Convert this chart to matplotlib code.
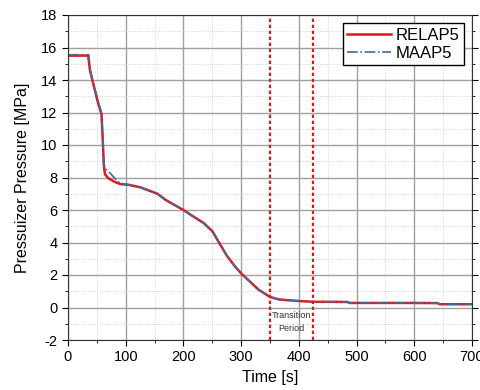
import matplotlib
matplotlib.use('Agg')
from matplotlib import pyplot as plt
from matplotlib.ticker import MultipleLocator

plt.rcParams['font.family'] = ['Liberation Sans', 'DejaVu Sans']
plt.rcParams['axes.unicode_minus'] = False

# RELAP5 pressure history
relap_t = [0, 35, 38, 45, 52, 58, 60, 62, 64, 70, 80, 90, 105, 125, 140, 155, 170,
           185, 200, 215, 235, 250, 260, 275, 290, 300, 315, 330, 350, 365, 380,
           400, 425, 450, 484, 488, 550, 600, 640, 644, 700]
relap_p = [15.5, 15.5, 14.6, 13.6, 12.6, 11.9, 10.5, 8.8, 8.2, 7.95, 7.75, 7.6, 7.55,
           7.4, 7.2, 7.0, 6.6, 6.3, 6.0, 5.65, 5.2, 4.7, 4.1, 3.2, 2.5, 2.1, 1.6,
           1.1, 0.65, 0.5, 0.45, 0.4, 0.35, 0.35, 0.34, 0.28, 0.28, 0.28, 0.27, 0.2, 0.2]

# MAAP5 pressure history
maap_t = [0, 36, 39, 45, 52, 58, 60, 62, 66, 72, 80, 90, 105, 125, 140, 155, 170,
          185, 200, 215, 235, 250, 260, 275, 290, 300, 315, 330, 350, 365, 380,
          400, 425, 450, 484, 488, 550, 600, 640, 644, 700]
maap_p = [15.55, 15.55, 14.5, 13.6, 12.7, 12.0, 10.6, 8.8, 8.5, 8.3, 8.0, 7.65, 7.55,
          7.4, 7.2, 7.0, 6.6, 6.3, 6.0, 5.65, 5.2, 4.7, 4.1, 3.2, 2.5, 2.1, 1.6,
          1.1, 0.65, 0.5, 0.45, 0.4, 0.35, 0.35, 0.34, 0.28, 0.28, 0.28, 0.27, 0.2, 0.2]

transition = [350, 425]

fig = plt.figure(figsize=(4.81, 3.90), dpi=100)
ax = fig.add_axes([68 / 481, 50 / 390, 404 / 481, 325 / 390])

ax.plot(relap_t, relap_p, color='#e8141c', linewidth=1.8, label='RELAP5')
ax.plot(maap_t, maap_p, color='#3e6d9c', linewidth=1.2, linestyle='-.', label='MAAP5')

for t in transition:
    ax.axvline(t, color='#e8141c', linestyle=(0, (1.5, 1.2)), linewidth=1.6)
ax.text(387, -0.9, 'Transition\nPeriod', fontsize=6.5, ha='center', va='center',
        color='#333333', linespacing=1.6)

ax.set_xlim(0, 700)
ax.set_ylim(-2, 18)
ax.xaxis.set_major_locator(MultipleLocator(100))
ax.xaxis.set_minor_locator(MultipleLocator(50))
ax.yaxis.set_major_locator(MultipleLocator(2))
ax.yaxis.set_minor_locator(MultipleLocator(1))
ax.grid(which='major', color='#a0a0a0', linewidth=1.0)
ax.grid(which='minor', color='#c8c8c8', linewidth=0.6, linestyle=':')
ax.set_axisbelow(True)
ax.tick_params(which='both', direction='out', labelsize=10.5, top=False, right=True)
ax.tick_params(which='major', length=4)
ax.tick_params(which='minor', length=2)
for s in ax.spines.values():
    s.set_color('#333333')

ax.set_xlabel('Time [s]', fontsize=11.5, labelpad=4)
ax.set_ylabel('Pressuizer Pressure [MPa]', fontsize=11.5, labelpad=8)

leg = ax.legend(loc='upper right', fontsize=12, fancybox=False, framealpha=1,
                edgecolor='black', handlelength=2.6, borderaxespad=0.5,
                handletextpad=0.3, borderpad=0.25, labelspacing=0.2)
leg.get_frame().set_linewidth(1.0)

fig.savefig('out.png', dpi=100)
